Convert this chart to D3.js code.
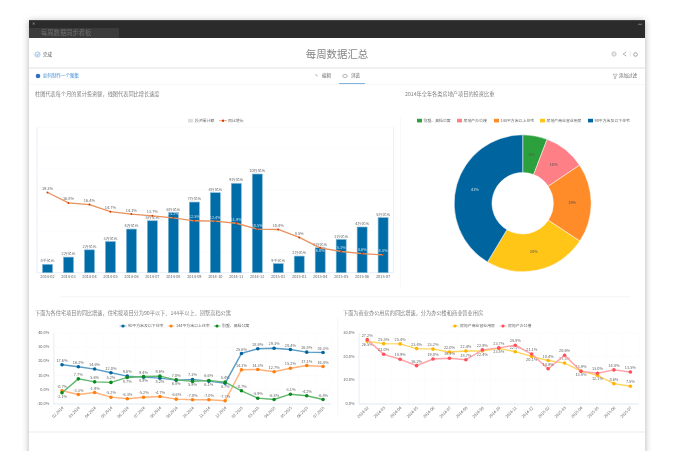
<!DOCTYPE html>
<html lang="zh">
	<head>
		<meta charset="UTF-8" />
		<title>每周数据汇总</title>
		<script src="https://d3js.org/d3.v7.min.js"></script>
		<style>
			html, body { margin: 0; padding: 0; background: #fff; overflow: hidden; }
			svg { display: block; font-family: "Noto Sans CJK SC", "Noto Sans", sans-serif; }
			.page { filter: blur(0.4px); }
			.small { font-size: 3.9px; fill: #666; }
			.heading { font-size: 5.2px; fill: #808080; }
		</style>
	</head>
	<body>
		<svg id="board" width="675" height="451"></svg>
		<script>
			const months = ["2014-02", "2014-03", "2014-04", "2014-05", "2014-06", "2014-07", "2014-08", "2014-09", "2014-10", "2014-11", "2014-12", "2015-02", "2015-03", "2015-04", "2015-05", "2015-06", "2015-07"];
			const monthsDotted = ["02.2014", "03.2014", "04.2014", "05.2014", "06.2014", "07.2014", "08.2014", "09.2014", "10.2014", "11.2014", "12.2014", "02.2015", "03.2015", "04.2015", "05.2015", "06.2015", "07.2015"];

			const investment = [0.8, 1.5, 2.2, 3.0, 4.2, 5.0, 5.8, 6.8, 7.7, 8.6, 9.5, 0.87, 1.6, 2.4, 3.2, 4.4, 5.3];
			const investmentLabels = ["8千亿元", "2万亿元", "2万亿元", "3万亿元", "4万亿元", "5万亿元", "6万亿元", "7万亿元", "8万亿元", "9万亿元", "10万亿元", "9千亿元", "2万亿元", "2万亿元", "3万亿元", "4万亿元", "5万亿元"];
			const growth = [19.3, 16.8, 16.4, 14.7, 14.1, 13.7, 13.2, 12.5, 12.4, 11.9, 10.5, 10.4, 8.5, 6.0, 5.1, 4.6, 4.3];

			const shareNames = ["别墅、高档公寓", "房地产办公楼", "144平方米以上住宅", "房地产商业营业用房", "90平方米及以下住宅"];
			const shareValues = [5.8, 9.8, 18.7, 24.3, 41.4];
			const shareColors = ["#2ca03c", "#ff7f87", "#ff8c28", "#ffc517", "#00649f"];

			const small90 = [17.6, 16.2, 14.6, 12.0, 9.6, 8.9, 8.2, 6.8, 7.3, 6.1, 4.7, 25.6, 28.9, 29.3, 28.4, 26.5, 26.3];
			const large144 = [-0.7, -3.3, -1.9, -5.2, -6.3, -5.2, -4.7, -6.6, -7.0, -7.0, -7.7, 14.1, 14.3, 12.7, 15.2, 17.1, 16.4];
			const villa = [-2.1, 7.7, 5.6, 5.2, 8.7, 9.4, 9.6, 7.0, 5.9, 6.6, 5.4, -0.7, -5.9, -6.8, -3.1, -4.2, -6.8];
			const shops = [26.5, 25.5, 25.4, 23.4, 23.2, 22.0, 22.4, 22.4, 23.5, 22.1, 20.1, 18.4, 17.3, 13.9, 12.1, 8.6, 7.5];
			const offices = [27.2, 21.0, 18.9, 16.2, 19.0, 19.3, 18.7, 22.9, 23.7, 24.8, 21.1, 14.9, 20.6, 13.8, 13.0, 14.4, 13.5];

			const ticksHousing = [-10, 0, 10, 20, 30, 40];
			const ticksCommercial = [0, 10, 20, 30];

			const svg = d3.select("#board");
			const defs = svg.append("defs");
			const shadow = defs.append("filter").attr("id", "shadow")
				.attr("x", "-5%").attr("y", "-5%").attr("width", "110%").attr("height", "110%");
			shadow.append("feGaussianBlur").attr("stdDeviation", 3.5);

			svg.append("rect").attr("x", 29).attr("y", 21).attr("width", 616).attr("height", 440)
				.attr("fill", "#000").attr("opacity", 0.3).attr("filter", "url(#shadow)");

			const page = svg.append("g").attr("class", "page");

			function text(parent, x, y, str, cls, anchor) {
				return parent.append("text")
					.attr("x", x)
					.attr("y", y)
					.attr("class", cls || "small")
					.attr("text-anchor", anchor || "start")
					.attr("dominant-baseline", "middle")
					.text(str);
			}

			function box(x, y, w, h, fill) {
				return page.append("rect").attr("x", x).attr("y", y).attr("width", w).attr("height", h).attr("fill", fill);
			}

			// window frame and top bars
			box(29, 20, 616, 431, "#fff");
			box(29, 20, 616, 18, "#2b2b2b");
			box(29, 20, 616, 1, "#444");
			box(29, 28, 90, 10, "#3b3b3b");
			text(page, 41, 33, "每周数据同步看板").style("font-size", "6.3px").style("fill", "#6e6e6e");
			text(page, 33, 24.5, "✕", "small", "middle").style("font-size", "3.6px").style("fill", "#aaa");
			text(page, 640, 24.5, "◂◂", "small", "middle").style("font-size", "3.4px").style("fill", "#aaa");

			// title row
			page.append("circle").attr("cx", 37.5).attr("cy", 54.5).attr("r", 2.6).attr("fill", "#eef4fb").attr("stroke", "#8fb5e4").attr("stroke-width", 0.7);
			page.append("path").attr("d", "M36.2 54.5l1 1 1.7-1.9").attr("fill", "none").attr("stroke", "#3d7fcf").attr("stroke-width", 0.6);
			text(page, 43, 54.5, "完成").style("font-size", "4.5px").style("fill", "#555");
			text(page, 337, 55, "每周数据汇总", "small", "middle").style("font-size", "10.4px").style("fill", "#868686");
			page.append("circle").attr("cx", 614).attr("cy", 54).attr("r", 2.2).attr("fill", "#e6e6e6").attr("stroke", "#bbb").attr("stroke-width", 0.7);
			page.append("path").attr("d", "M626.3 51.9l-3.2 2.1 3.2 2.1").attr("fill", "none").attr("stroke", "#aaa").attr("stroke-width", 0.9);
			box(630, 51.5, 0.6, 5, "#ddd");
			page.append("circle").attr("cx", 635.5).attr("cy", 54.5).attr("r", 1.8).attr("fill", "none").attr("stroke", "#999").attr("stroke-width", 0.9);
			box(29, 67, 616, 2, "#f0f0f0");

			// tool row
			page.append("circle").attr("cx", 38).attr("cy", 76).attr("r", 2.3).attr("fill", "#2f6fc4");
			text(page, 43, 76, "如何制作一个图集").style("font-size", "4.5px").style("fill", "#3d8ad8");
			text(page, 316.5, 76, "✎", "small", "middle").style("fill", "#777");
			text(page, 322, 76, "编辑").style("font-size", "4.5px");
			page.append("ellipse").attr("cx", 345).attr("cy", 76).attr("rx", 2.4).attr("ry", 1.5).attr("fill", "none").attr("stroke", "#888").attr("stroke-width", 0.6);
			text(page, 351, 76, "浏览").style("font-size", "4.5px");
			box(339, 83, 26, 1, "#7fb2e0");
			page.append("path").attr("d", "M613 74.2h4.4l-1.7 2v2.2l-1 .5v-2.7z").attr("fill", "none").attr("stroke", "#888").attr("stroke-width", 0.5);
			text(page, 619, 76, "添加过滤").style("font-size", "4.5px");
			box(29, 84, 616, 0.6, "#f2f2f2");

			text(page, 35, 95, "柱图代表每个月的累计投资额，线图代表同比增长速度", "heading");
			text(page, 405, 95, "2014年全年各类房地产项目的投资比重", "heading");
			text(page, 35, 313.5, "下面为各住宅项目的同比增速，住宅按项目分为90平以下、144平以上、别墅高档公寓", "heading");
			text(page, 343, 313.5, "下面为商业办公用房的同比增速，分为办公楼和商业营业用房", "heading");

			box(400, 118, 0.6, 170, "#f3f3f3");
			box(60, 296.5, 570, 0.7, "#f0f0f0");
			box(337.5, 318, 0.6, 97, "#f0f0f0");
			box(29, 431, 616, 2, "#f5f5f5");

			// combo chart: bars and growth line
			const comboX = d3.scaleBand().domain(months).range([37, 393.6]).paddingInner(0.3).paddingOuter(0.15);
			const comboCentre = (m) => comboX(m) + comboX.bandwidth() / 2;
			const barY = d3.scaleLinear().domain([0, 14]).range([272.7, 127.3]);
			const growthY = d3.scaleLinear().domain([0, 35]).range([272.7, 127.3]);

			const combo = page.append("g");
			combo.selectAll(".grid").data(d3.range(1, 8)).join("line")
				.attr("x1", 37).attr("x2", 393.6)
				.attr("y1", (d) => barY(d * 2)).attr("y2", (d) => barY(d * 2))
				.attr("stroke", "#f2f2f2").attr("stroke-width", 0.5).attr("stroke-dasharray", "1,1");
			combo.append("line").attr("x1", 37).attr("x2", 37).attr("y1", 127.3).attr("y2", 272.7).attr("stroke", "#dfeaf5").attr("stroke-width", 0.8);
			combo.append("line").attr("x1", 393.6).attr("x2", 393.6).attr("y1", 127.3).attr("y2", 272.7).attr("stroke", "#dfeaf5").attr("stroke-width", 0.8);
			combo.append("line").attr("x1", 37).attr("x2", 393.6).attr("y1", 272.7).attr("y2", 272.7).attr("stroke", "#dfeaf5").attr("stroke-width", 0.8);

			combo.selectAll(".bar").data(investment).join("rect")
				.attr("x", (d, i) => comboCentre(months[i]) - 5)
				.attr("width", 10)
				.attr("y", (d) => barY(d))
				.attr("height", (d) => barY(0) - barY(d))
				.attr("fill", "#006ca8")
				.attr("stroke", "#7fb6d6")
				.attr("stroke-width", 0.6);

			combo.selectAll(".barLabel").data(investmentLabels).join("text")
				.attr("x", (d, i) => comboCentre(months[i]))
				.attr("y", (d, i) => barY(investment[i]) - 3)
				.attr("class", "small")
				.attr("text-anchor", "middle")
				.attr("dominant-baseline", "middle")
				.text((d) => d);

			const growthLine = d3.line().x((d, i) => comboCentre(months[i])).y((d) => growthY(d));
			combo.append("path").datum(growth).attr("d", growthLine)
				.attr("fill", "none").attr("stroke", "#e8915c").attr("stroke-width", 1.3);
			combo.selectAll(".growthDot").data(growth).join("circle")
				.attr("cx", (d, i) => comboCentre(months[i]))
				.attr("cy", (d) => growthY(d))
				.attr("r", 1)
				.attr("fill", "#d83c00");

			// growth label drops under its point when it would sit on the bar label
			const growthLabelY = (d, i) => {
				const above = growthY(d) - 3.5;
				return Math.abs(above - (barY(investment[i]) - 3)) < 4.5 ? growthY(d) + 3.5 : above;
			};
			combo.selectAll(".growthLabel").data(growth).join("text")
				.attr("x", (d, i) => comboCentre(months[i]))
				.attr("y", growthLabelY)
				.attr("class", "small")
				.attr("text-anchor", "middle")
				.attr("dominant-baseline", "middle")
				.style("fill", (d, i) => (growthLabelY(d, i) > barY(investment[i]) ? "#cfe3f0" : "#666"))
				.text((d) => d.toFixed(1) + "%");

			combo.selectAll(".comboTick").data(months).join("text")
				.attr("x", (d) => comboCentre(d))
				.attr("y", 277)
				.attr("class", "small")
				.attr("text-anchor", "middle")
				.attr("dominant-baseline", "middle")
				.text((d) => d);

			box(188, 118.9, 5, 3.6, "#ddd");
			text(page, 195, 120.7, "投资累计额");
			box(219, 120.4, 8, 0.7, "#e8915c");
			page.append("circle").attr("cx", 223).attr("cy", 120.7).attr("r", 1.2).attr("fill", "#d83c00");
			text(page, 228, 120.7, "同比增长");

			// donut
			const pie = d3.pie().sort(null)(shareValues);
			const arc = d3.arc().innerRadius(30.7).outerRadius(68.5);
			const donut = page.append("g").attr("transform", "translate(522.7,203.3)");
			donut.selectAll("path").data(pie).join("path")
				.attr("d", arc)
				.attr("fill", (d, i) => shareColors[i])
				.attr("stroke", "#fff")
				.attr("stroke-width", 0.5);
			const labelArc = d3.arc().innerRadius(49.5).outerRadius(49.5);
			donut.selectAll("text").data(pie).join("text")
				.attr("transform", (d) => `translate(${labelArc.centroid(d)})`)
				.attr("class", "small")
				.attr("text-anchor", "middle")
				.attr("dominant-baseline", "middle")
				.style("fill", (d, i) => (i === 4 ? "#cfe0ea" : "#555"))
				.text((d) => Math.round(d.data) + "%");

			const shareLegendX = [417, 457, 494, 540, 588];
			shareNames.forEach((name, i) => {
				box(shareLegendX[i], 118.8, 5, 3.6, shareColors[i]);
				text(page, shareLegendX[i] + 6.5, 120.7, name);
			});

			// line charts
			function lineChart(opts) {
				const x = d3.scalePoint().domain(opts.categories).range([opts.left, opts.right]).padding(0.5);
				const y = d3.scaleLinear().domain(opts.domain).range([opts.bottom, opts.top]);
				const g = page.append("g");

				g.selectAll(".hGrid").data(opts.ticks).join("line")
					.attr("x1", opts.left).attr("x2", opts.right)
					.attr("y1", (d) => y(d)).attr("y2", (d) => y(d))
					.attr("stroke", "#f2f2f2").attr("stroke-width", 0.5).attr("stroke-dasharray", "1,1");
				g.selectAll(".vGrid").data(opts.categories).join("line")
					.attr("x1", (d) => x(d) + x.step() / 2).attr("x2", (d) => x(d) + x.step() / 2)
					.attr("y1", opts.top).attr("y2", opts.bottom)
					.attr("stroke", "#f4f4f4").attr("stroke-width", 0.5).attr("stroke-dasharray", "1,1");
				g.append("line").attr("x1", opts.left).attr("x2", opts.left).attr("y1", opts.top).attr("y2", opts.bottom).attr("stroke", "#dfeaf5").attr("stroke-width", 0.8);
				g.append("line").attr("x1", opts.left).attr("x2", opts.right).attr("y1", opts.bottom).attr("y2", opts.bottom).attr("stroke", "#dfeaf5").attr("stroke-width", 1);

				g.selectAll(".yTick").data(opts.ticks).join("text")
					.attr("x", opts.left - 4.5)
					.attr("y", (d) => y(d))
					.attr("class", "small")
					.attr("text-anchor", "end")
					.attr("dominant-baseline", "middle")
					.text((d) => d.toFixed(1) + "%");

				g.selectAll(".xTick").data(opts.categories).join("text")
					.attr("transform", (d) => `translate(${x(d) + 1},${opts.bottom + 3.5}) rotate(-45)`)
					.attr("class", "small")
					.attr("text-anchor", "end")
					.attr("dominant-baseline", "middle")
					.text((d) => d);

				// a label goes under its point when another series sits just above it
				const labelY = (s, d, i) => {
					const crowded = opts.series.some((o) => o !== s && y(o.values[i]) < y(d) && y(d) - y(o.values[i]) < 5.5);
					return crowded ? y(d) + 4 : y(d) - 4;
				};

				opts.series.forEach((s) => {
					const line = d3.line().x((d, i) => x(opts.categories[i])).y((d) => y(d));
					g.append("path").datum(s.values).attr("d", line)
						.attr("fill", "none").attr("stroke", s.line).attr("stroke-width", 1.4);
					g.selectAll(null).data(s.values).join("circle")
						.attr("cx", (d, i) => x(opts.categories[i]))
						.attr("cy", (d) => y(d))
						.attr("r", 1.8)
						.attr("fill", s.dot);
					g.selectAll(null).data(s.values).join("text")
						.attr("x", (d, i) => x(opts.categories[i]))
						.attr("y", (d, i) => labelY(s, d, i))
						.attr("class", "small")
						.attr("text-anchor", "middle")
						.attr("dominant-baseline", "middle")
						.text((d) => d.toFixed(1) + "%");

					page.append("line").attr("x1", s.legendX - 3.5).attr("x2", s.legendX + 3.5).attr("y1", 326).attr("y2", 326).attr("stroke", s.line).attr("stroke-width", 0.7);
					page.append("circle").attr("cx", s.legendX).attr("cy", 326).attr("r", 1.6).attr("fill", s.dot);
					text(page, s.legendX + 5, 326, s.name);
				});
			}

			lineChart({
				categories: monthsDotted,
				left: 53.85, right: 331.2, top: 333, bottom: 404,
				domain: [-10, 40],
				ticks: ticksHousing,
				series: [
					{ name: shareNames[4], values: small90, line: "#5a9cc5", dot: "#00649f", legendX: 123 },
					{ name: shareNames[2], values: large144, line: "#ffb27a", dot: "#ff7f0e", legendX: 171 },
					{ name: shareNames[0], values: villa, line: "#5fb86c", dot: "#0a8a1e", legendX: 217 }
				]
			});

			lineChart({
				categories: months,
				left: 359, right: 638.6, top: 333, bottom: 404,
				domain: [0, 30],
				ticks: ticksCommercial,
				series: [
					{ name: shareNames[3], values: shops, line: "#ffd45c", dot: "#ffb400", legendX: 455 },
					{ name: shareNames[1], values: offices, line: "#ffa3a8", dot: "#ff4d5a", legendX: 503 }
				]
			});
		</script>
	</body>
</html>
